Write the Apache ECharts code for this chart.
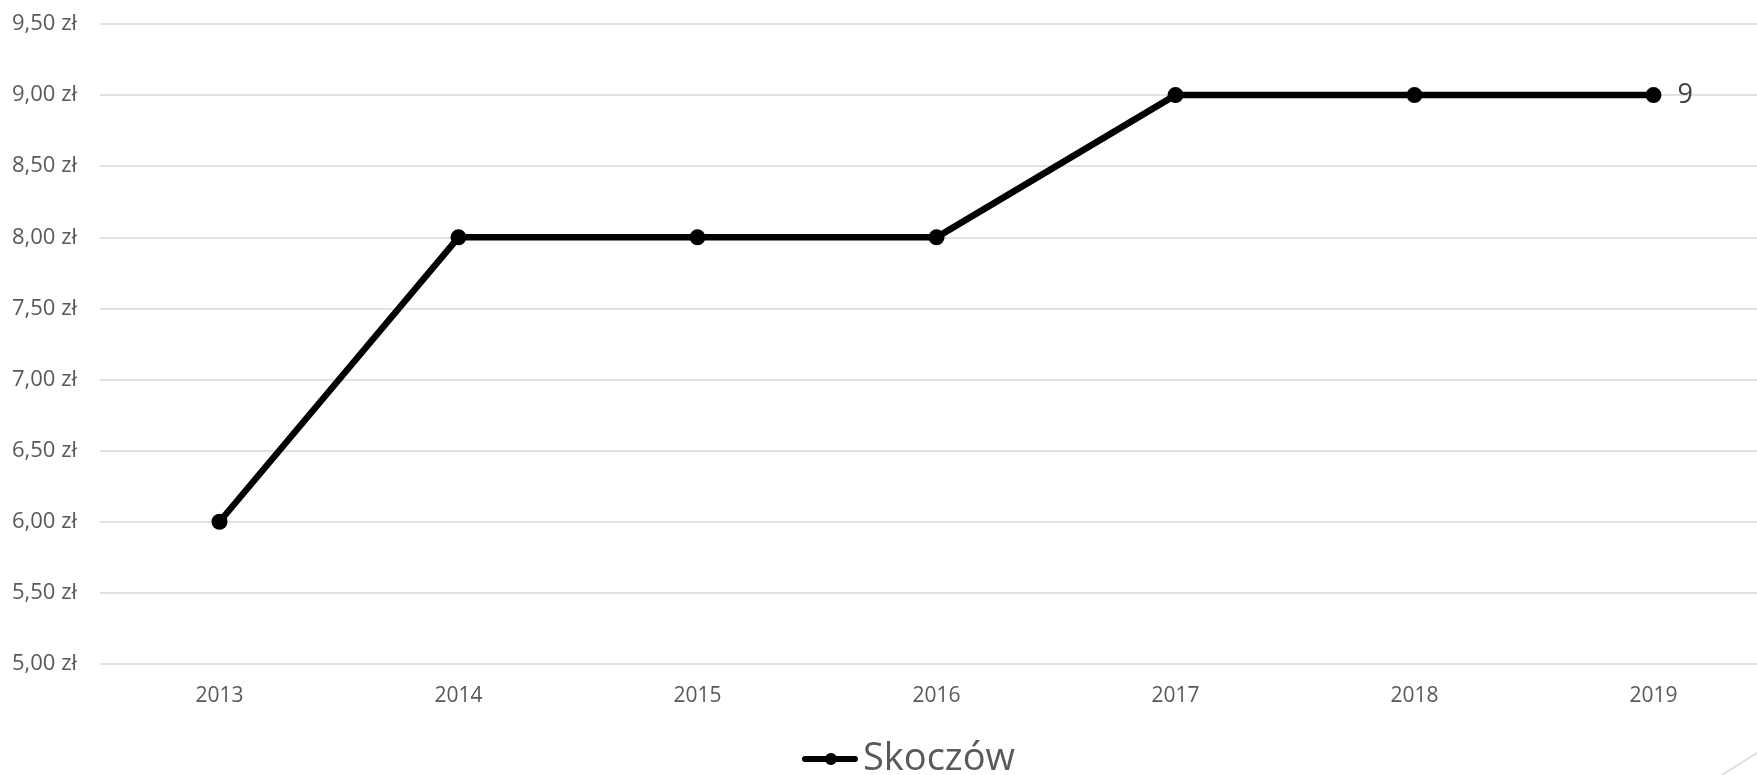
<!DOCTYPE html>
<html>
<head>
<meta charset="utf-8">
<script src="https://cdn.jsdelivr.net/npm/echarts@6/dist/echarts.min.js"></script>
<style>html,body{margin:0;padding:0;background:#fff;}#c{width:1757px;height:775px;}</style>
</head>
<body>
<div id="c"></div>
<script>
var categories = ['2013', '2014', '2015', '2016', '2017', '2018', '2019'];
var values = [6, 8, 8, 8, 9, 9, 9];
var seriesName = 'Skoczów';
var yMin = 5, yMax = 9.5, yStep = 0.5;

var chart = echarts.init(document.getElementById('c'));
var font = '"Open Sans", "Noto Sans", sans-serif';
var legendIcon = 'path://M3,3 L23.8,3 A6,6 0 0,1 34.2,3 L53,3 A3,3 0 0,1 53,9 L34.2,9 A6,6 0 0,1 23.8,9 L3,9 A3,3 0 0,1 3,3 Z';
var data = values.map(function (v, i) {
  if (i === values.length - 1) {
    return { value: v, label: { show: true, position: 'right', distance: 16, color: '#404040', fontSize: 27, fontFamily: font, formatter: function (p) { return String(p.value); } } };
  }
  return v;
});
chart.setOption({
  animation: false,
  backgroundColor: '#fff',
  grid: { left: 100, width: 1673, top: 24, height: 640, containLabel: false, outerBoundsMode: 'none' },
  xAxis: {
    type: 'category',
    data: categories,
    boundaryGap: true,
    axisLine: { show: false },
    axisTick: { show: false },
    axisLabel: { color: '#595959', fontSize: 21, fontFamily: font, margin: 22 }
  },
  yAxis: {
    type: 'value',
    min: yMin, max: yMax, interval: yStep,
    axisLine: { show: false },
    axisTick: { show: false },
    splitLine: { lineStyle: { color: '#d9d9d9', width: 1.5 } },
    axisLabel: {
      color: '#595959', fontSize: 22, fontFamily: font, margin: 23,
      formatter: function (v) { return v.toFixed(2).replace('.', ',') + ' zł'; }
    }
  },
  legend: {
    show: true,
    top: 735,
    left: 797,
    itemWidth: 56,
    itemHeight: 12,
    icon: legendIcon,
    itemStyle: { color: '#000', borderWidth: 0 },
    textStyle: { color: '#595959', fontSize: 38, fontFamily: font },
    data: [{ name: seriesName, icon: legendIcon }]
  },
  series: [{
    name: seriesName,
    type: 'line',
    data: data,
    symbol: 'circle',
    symbolSize: 16,
    lineStyle: { color: '#000', width: 6.5 },
    itemStyle: { color: '#000' }
  }],
  graphic: [{
    type: 'line',
    shape: { x1: 1722, y1: 775, x2: 1760, y2: 751 },
    style: { stroke: '#d9d9d9', lineWidth: 1.5 }
  }]
});
</script>
</body>
</html>
